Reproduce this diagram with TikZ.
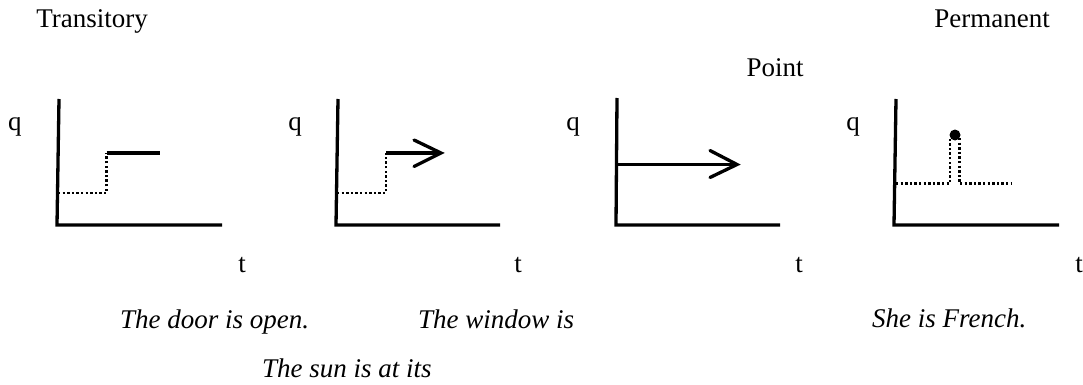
\documentclass[tikz,border=0pt]{standalone}
\usepackage{fontspec}
\setmainfont{Liberation Serif}
\begin{document}
\begin{tikzpicture}[x=1pt,y=-1pt,
  axis/.style={line width=3.3pt},
  solidline/.style={line width=3.3pt},
  dotline/.style={line width=2.4pt,dash pattern=on 2.4pt off 2.2pt},
  chev/.style={line width=3.3pt,line cap=round,line join=miter},
  lbl/.style={inner sep=0pt,font=\fontsize{27}{32}\selectfont},
  ex/.style={inner sep=0pt,font=\fontsize{27}{32}\selectfont\itshape}]
\useasboundingbox (0,0) rectangle (1083,385);
% headings
\node[lbl,anchor=base east] (trans) at (148,28) {Transitory};
\node[lbl,anchor=base east] (perm) at (1050,28) {Permanent};
\node[lbl,anchor=base] (point) at (775,77) {Point};
% panel 1
\draw[axis] (59,99) -- (57,225) -- (222,225);
\node[lbl,anchor=base] (q1) at (15,131) {q};
\node[lbl,anchor=base] (t1) at (242,272) {t};
\draw[dotline] (58,193) -- (106.5,193) -- (106.5,153);
\draw[solidline] (106.5,153) -- (160,153);
% panel 2
\draw[axis] (338,99) -- (336,225) -- (500,225);
\node[lbl,anchor=base] (q2) at (295,131) {q};
\node[lbl,anchor=base] (t2) at (518,272) {t};
\draw[dotline] (337,193) -- (386,193) -- (386,153);
\draw[solidline] (386,153) -- (441,153);
\draw[chev] (414,140) -- (441,153) -- (414,166.5);
% panel 3
\draw[axis] (617,98) -- (616,225) -- (780,225);
\node[lbl,anchor=base] (q3) at (573,131) {q};
\node[lbl,anchor=base] (t3) at (799,272) {t};
\draw[solidline] (617,164.5) -- (737,164.5);
\draw[chev] (710,150.5) -- (737,164.5) -- (710,177.5);
% panel 4
\draw[axis] (896,99) -- (894,225) -- (1059,225);
\node[lbl,anchor=base] (q4) at (853,131) {q};
\node[lbl,anchor=base] (t4) at (1079,272) {t};
\draw[dotline] (896,183.5) -- (950,183.5) -- (950,138);
\draw[dotline] (959.5,138) -- (959.5,183.5) -- (1012,183.5);
\fill (955,135) circle (5.5);
% examples
\node[ex,anchor=base west] (ex1) at (120,328) {The door is open.};
\node[ex,anchor=base west] (ex2) at (418,328) {The window is};
\node[ex,anchor=base west] (ex3) at (262,377) {The sun is at its};
\node[ex,anchor=base west] (ex4) at (872,327) {She is French.};
\end{tikzpicture}
\end{document}
